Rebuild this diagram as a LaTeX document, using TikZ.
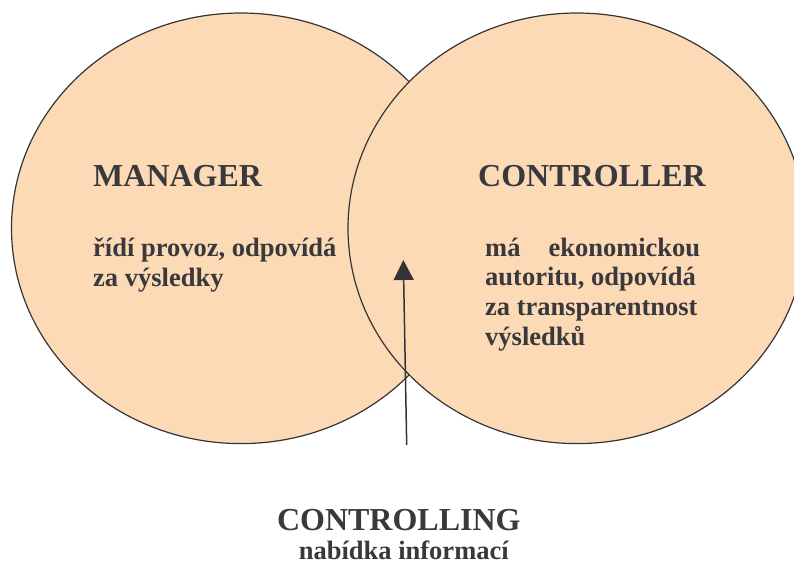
\documentclass[tikz,border=0pt]{standalone}
\usepackage{fontspec}
\setmainfont{Liberation Serif}
\usetikzlibrary{arrows.meta}
\definecolor{peach}{RGB}{252,218,181}
\definecolor{ink}{RGB}{52,52,56}
\definecolor{txt}{RGB}{57,57,61}
\tikzset{
  circ/.style={fill=peach, draw=ink, line width=1.2pt},
  head/.style={inner sep=0pt, anchor=base west, text=txt, font=\bfseries\fontsize{32}{36}\selectfont},
  body/.style={inner sep=0pt, anchor=base west, text=txt, font=\bfseries\fontsize{26.5}{30}\selectfont},
  foothead/.style={inner sep=0pt, anchor=base, text=txt, font=\bfseries\fontsize{32}{36}\selectfont},
  footbody/.style={inner sep=0pt, anchor=base, text=txt, font=\bfseries\fontsize{26.5}{30}\selectfont},
  arrowline/.style={draw=ink, line width=1.5pt, -{Triangle[width=20pt,length=20pt]}}
}
\begin{document}
\begin{tikzpicture}[x=1pt,y=-1pt]
\useasboundingbox (0,0) rectangle (794,563);
% circles: right one drawn over the left one
\draw[circ] (241,228.3) ellipse [x radius=229.5pt, y radius=215.3pt];
\draw[circ] (577,228.3) ellipse [x radius=229pt, y radius=215.3pt];
% texts
\node[head] (manager) at (93,186.7) {MANAGER};
\node[body] (managertext) at (93,256) {\parbox[t]{260pt}{\fontsize{26.5}{30.7}\selectfont řídí provoz, odpovídá\\za výsledky}};
\node[head] (controller) at (478,186.7) {CONTROLLER};
\node[body] (controllertext) at (485,256) {\parbox[t]{215pt}{\fontsize{26.5}{29.7}\selectfont \makebox[215pt][s]{má ekonomickou}\\autoritu, odpovídá\\za transparentnost\\výsledků}};
\node[foothead] (controlling) at (398.8,530) {CONTROLLING};
\node[footbody] (offer) at (403.8,559.5) {nabídka informací};
% arrow
\coordinate (arrowstart) at (406.7,445);
\coordinate (arrowtip) at (403.3,260);
\draw[arrowline] (arrowstart) -- (arrowtip);
\end{tikzpicture}
\end{document}
